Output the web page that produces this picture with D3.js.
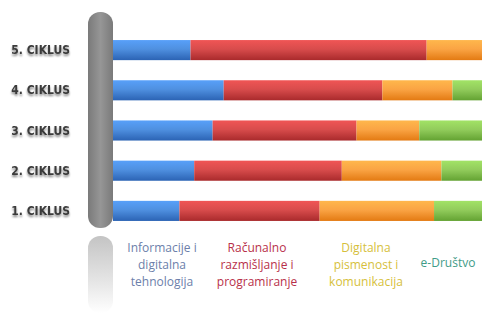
<!DOCTYPE html>
<html>
<head>
<meta charset="utf-8">
<script src="https://cdn.jsdelivr.net/npm/d3@7"></script>
<style>
html,body{margin:0;padding:0;background:#fff;}
svg{display:block;}
</style>
</head>
<body>
<svg id="chart" width="483" height="313"></svg>
<script>
const categories = ["5. CIKLUS", "4. CIKLUS", "3. CIKLUS", "2. CIKLUS", "1. CIKLUS"];
const seriesNames = ["Informacije i digitalna tehnologija", "Računalno razmišljanje i programiranje", "Digitalna pismenost i komunikacija", "e-Društvo"];
const infoTech   = [21, 30, 27, 22, 18];
const racunalno  = [64, 43, 39, 40, 38];
const pismenost  = [15, 19, 17, 27, 31];
const eDrustvo   = [0, 8, 17, 11, 13];
const legendLines = [
  ["Informacije i", "digitalna", "tehnologija"],
  ["Računalno", "razmišljanje i", "programiranje"],
  ["Digitalna", "pismenost i", "komunikacija"],
  ["e-Društvo"]
];

const svg = d3.select("#chart");
const keys = ["a","b","c","d"];
const data = categories.map((c,i)=>({cat:c, a:infoTech[i], b:racunalno[i], c:pismenost[i], d:eDrustvo[i]}));
const stack = d3.stack().keys(keys)(data);

const x = d3.scaleLinear().domain([0,100]).range([113, 482]);
const y = d3.scaleBand().domain(categories).range([30, 231]).paddingInner(0.5).paddingOuter(0.25);

const colors = [
  ["#4f90e0","#2b63b4"],
  ["#d84c4c","#a92a2c"],
  ["#faa444","#e37a12"],
  ["#92cc5c","#63a232"]
];
const legendColors = ["#6c80aa","#b8304a","#d6bf3c","#3f9c88"];

const defs = svg.append("defs");
colors.forEach((c,i)=>{
  const g = defs.append("linearGradient").attr("id","g"+i).attr("x1",0).attr("x2",0).attr("y1",0).attr("y2",1);
  g.append("stop").attr("offset","0%").attr("stop-color",d3.color(c[0]).brighter(0.3));
  g.append("stop").attr("offset","45%").attr("stop-color",c[0]);
  g.append("stop").attr("offset","100%").attr("stop-color",c[1]);
});
const pg = defs.append("linearGradient").attr("id","pillar").attr("x1",0).attr("x2",1).attr("y1",0).attr("y2",0);
pg.append("stop").attr("offset","0%").attr("stop-color","#7a7a7a");
pg.append("stop").attr("offset","50%").attr("stop-color","#969696");
pg.append("stop").attr("offset","100%").attr("stop-color","#7a7a7a");
const rg = defs.append("linearGradient").attr("id","refl").attr("x1",0).attr("x2",0).attr("y1",0).attr("y2",1);
rg.append("stop").attr("offset","0%").attr("stop-color","#c4c4c4");
rg.append("stop").attr("offset","60%").attr("stop-color","#e6e6e6");
rg.append("stop").attr("offset","100%").attr("stop-color","#ffffff");
const blur = defs.append("filter").attr("id","shadow").attr("x","-20%").attr("y","-50%").attr("width","140%").attr("height","200%");
blur.append("feGaussianBlur").attr("in","SourceAlpha").attr("stdDeviation",1.2).attr("result","b");
blur.append("feOffset").attr("in","b").attr("dy",2).attr("result","o");
blur.append("feComponentTransfer").attr("in","o").attr("result","o2").append("feFuncA").attr("type","linear").attr("slope",0.5);
const m = blur.append("feMerge");
m.append("feMergeNode").attr("in","o2");
m.append("feMergeNode").attr("in","SourceGraphic");

// pillar reflection
svg.append("rect").attr("x",88).attr("y",236).attr("width",25).attr("height",77).attr("rx",12).attr("fill","url(#refl)");
// pillar
svg.append("rect").attr("x",88).attr("y",12).attr("width",25).attr("height",216).attr("rx",12).attr("fill","url(#pillar)");

// bars
svg.append("g").selectAll("g").data(stack).join("g")
  .attr("fill",(d,i)=>"url(#g"+i+")")
  .selectAll("rect").data(d=>d).join("rect")
  .attr("x",d=>x(d[0]))
  .attr("y",d=>y(d.data.cat))
  .attr("width",d=>Math.max(0,x(d[1])-x(d[0])))
  .attr("height",y.bandwidth());

// category labels
svg.append("g").selectAll("text").data(categories).join("text")
  .attr("x",70).attr("y",d=>y(d)+y.bandwidth()/2)
  .attr("text-anchor","end").attr("dominant-baseline","central")
  .attr("font-family","DejaVu Sans Condensed, DejaVu Sans, sans-serif")
  .attr("font-weight","bold").attr("font-size",12)
  .attr("fill","#3a3a3a").attr("filter","url(#shadow)")
  .text(d=>d);

// legend
const legX = [162, 257, 366, 448];
const lg = svg.append("g").attr("font-family","Open Sans, sans-serif").attr("font-size",12).attr("text-anchor","middle");
legendLines.forEach((lines,i)=>{
  const t = lg.append("text").attr("fill",legendColors[i]);
  const y0 = lines.length===1 ? 262 : 247;
  lines.forEach((ln,j)=>{
    t.append("tspan").attr("x",legX[i]).attr("y",y0+j*17).attr("dominant-baseline","central").text(ln);
  });
});
</script>
</body>
</html>
